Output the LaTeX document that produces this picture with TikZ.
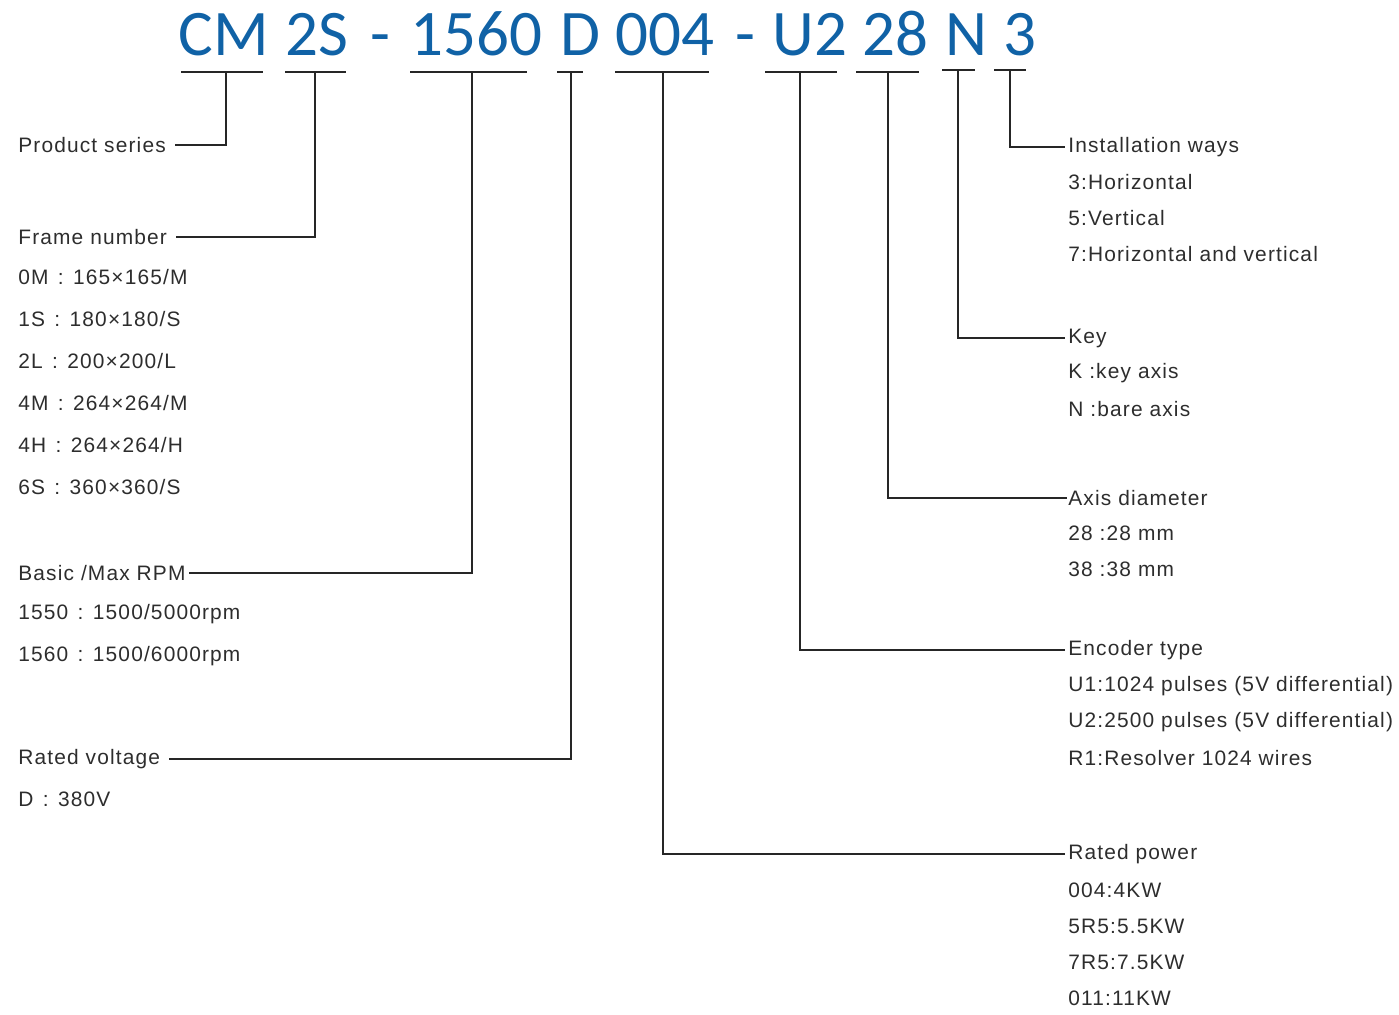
\documentclass[tikz,border=0pt]{standalone}
\usepackage{fontspec}
\setmainfont[LetterSpace=5.5]{Liberation Sans}
\newfontfamily\codefont{Carlito}
\usetikzlibrary{calc}
\definecolor{codeblue}{RGB}{16,98,166}
\definecolor{textgray}{RGB}{45,45,45}
\newcommand{\colsep}{\hspace{0.45em}:\hspace{0.45em}}

\begin{document}
\begin{tikzpicture}[x=0.02cm, y=-0.02cm,
  code/.style={anchor=base west, inner sep=0pt, text=codeblue, font=\codefont\fontsize{37}{40}\selectfont},
  head/.style={anchor=west, inner sep=0pt, text=textgray, font=\fontsize{11.9}{14}\selectfont},
  item/.style={head},
  lead/.style={line width=0.6pt, black!85}]

  \useasboundingbox (0,0) rectangle (1399,1014);

  % Model code
  \node[code] (cm)   at (178,55)  {CM};
  \node[code] (fr)   at (285,55)  {2S};
  \node[code] (da)   at (370,55)  {-};
  \node[code] (rpm)  at (410,55)  {1560};
  \node[code] (volt) at (560,55)  {D};
  \node[code] (pw)   at (615,55)  {004};
  \node[code] (db)   at (735,55)  {-};
  \node[code] (enc)  at (772,55)  {U2};
  \node[code] (ax)   at (862,55)  {28};
  \node[code] (key)  at (945,55)  {N};
  \node[code] (inst) at (1003,55) {3};

  % Underlines
  \draw[lead] (181,72) -- (263,72);
  \draw[lead] (285,72) -- (346,72);
  \draw[lead] (410,72) -- (527,72);
  \draw[lead] (557,72) -- (583,72);
  \draw[lead] (615,72) -- (709,72);
  \draw[lead] (765,72) -- (837,72);
  \draw[lead] (856,72) -- (919,72);
  \draw[lead] (942,70) -- (975,70);
  \draw[lead] (994,70) -- (1026,70);

  \coordinate (ucm)   at (226,72);
  \coordinate (ufr)   at (315,72);
  \coordinate (urpm)  at (472,72);
  \coordinate (uvolt) at (571,72);
  \coordinate (upw)   at (663,72);
  \coordinate (uenc)  at (800,72);
  \coordinate (uax)   at (888,72);
  \coordinate (ukey)  at (958,70);
  \coordinate (uinst) at (1010,70);

  % Left side
  \node[head] (series) at (18,145) {Product series};

  \node[head] (frame) at (18,237) {Frame number};
  \foreach \t [count=\i] in {0M\colsep 165×165/M, 1S\colsep 180×180/S, 2L\colsep 200×200/L,
      4M\colsep 264×264/M, 4H\colsep 264×264/H, 6S\colsep 360×360/S}
    \node[item] (frame\i) at (18,{235+42*\i}) {\t};

  \node[head] (speed) at (18,573) {Basic /Max RPM};
  \node[item] (speed1) at (18,614) {1550\colsep 1500/5000rpm};
  \node[item] (speed2) at (18,656) {1560\colsep 1500/6000rpm};

  \node[head] (voltage) at (18,759) {Rated voltage};
  \node[item] (voltage1) at (18,799) {D\colsep 380V};

  % Right side
  \node[head] (install) at (1068,147) {Installation ways};
  \foreach \t [count=\i] in {3:Horizontal, 5:Vertical, 7:Horizontal and vertical}
    \node[item] (install\i) at (1068,{146+36*\i}) {\t};

  \node[head] (keyway) at (1068,338) {Key};
  \node[item] (keyway1) at (1068,373) {K :key axis};
  \node[item] (keyway2) at (1068,409) {N :bare axis};

  \node[head] (axis) at (1068,498) {Axis diameter};
  \node[item] (axis1) at (1068,533) {28 :28 mm};
  \node[item] (axis2) at (1068,569) {38 :38 mm};

  \node[head] (encoder) at (1068,650) {Encoder type};
  \foreach \t [count=\i] in {U1:1024 pulses (5V differential), U2:2500 pulses (5V differential),
      R1:Resolver 1024 wires}
    \node[item] (encoder\i) at (1068,{650+36*\i}) {\t};

  \node[head] (power) at (1068,854) {Rated power};
  \foreach \t [count=\i] in {004:4KW, 5R5:5.5KW, 7R5:7.5KW, 011:11KW}
    \node[item] (power\i) at (1068,{854+36*\i}) {\t};

  % Leaders
  \draw[lead, shorten >=5pt] (ucm) |- (series.east);
  \draw[lead, shorten >=5pt] (ufr) |- (frame.east);
  \draw[lead, shorten >=2pt] (urpm) |- (speed.east);
  \draw[lead, shorten >=5pt] (uvolt) |- (voltage.east);
  \draw[lead, shorten >=1.5pt] (upw) |- (power.west);
  \draw[lead, shorten >=1.5pt] (uenc) |- (encoder.west);
  \draw[lead, shorten >=0.5pt] (uax) |- (axis.west);
  \draw[lead, shorten >=1.5pt] (ukey) |- (keyway.west);
  \draw[lead, shorten >=1.5pt] (uinst) |- (install.west);

\end{tikzpicture}
\end{document}
